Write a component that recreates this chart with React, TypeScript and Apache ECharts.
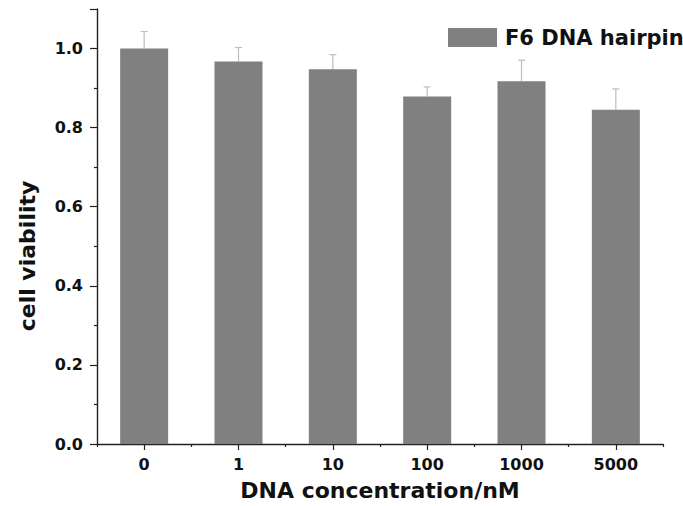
import React, { useEffect, useRef } from "react";
import * as echarts from "echarts";

const categories = ["0", "1", "10", "100", "1000", "5000"];
const viability = [1.0, 0.9675, 0.9475, 0.879, 0.9175, 0.845];
const errors = [0.043, 0.035, 0.037, 0.024, 0.053, 0.053];
const seriesName = "F6 DNA hairpin";
const xTitle = "DNA concentration/nM";
const yTitle = "cell viability";

const FONT = "DejaVu Sans";

export default function App() {
  const ref = useRef<HTMLDivElement>(null);
  useEffect(() => {
    if (!ref.current) return;
    const chart = echarts.init(ref.current, undefined, { renderer: "svg" });
    const errData = categories.map((c, i) => [i, viability[i], viability[i] + errors[i]]);
    chart.setOption({
      animation: false,
      backgroundColor: "#ffffff",
      grid: { left: 97, right: 20, top: 9, bottom: 57, containLabel: false },
      legend: {
        show: true,
        data: [seriesName],
        left: 443,
        top: 22,
        itemWidth: 49,
        itemHeight: 19,
        icon: "rect",
        textStyle: {
          fontFamily: FONT,
          fontWeight: "bold",
          fontSize: 21,
          color: "#111",
          padding: [0, 0, 0, 3],
        },
      },
      graphic: [
        {
          type: "text",
          x: 27,
          y: 256,
          rotation: Math.PI / 2,
          style: {
            text: yTitle,
            fontFamily: FONT,
            fontWeight: "bold",
            fontSize: 22,
            fill: "#111",
            align: "center",
            verticalAlign: "middle",
          },
        },
      ],
      xAxis: [
        {
          type: "category",
          data: categories,
          position: "bottom",
          boundaryGap: true,
          axisLine: { show: true, lineStyle: { color: "#222", width: 1.4 } },
          axisTick: { show: true, alignWithLabel: true, length: 6, lineStyle: { color: "#222", width: 1.2 } },
          axisLabel: {
            margin: 12,
            fontFamily: FONT,
            fontWeight: "bold",
            fontSize: 16,
            color: "#111",
          },
          splitLine: { show: false },
          name: xTitle,
          nameLocation: "middle",
          nameGap: 35,
          nameTextStyle: { fontFamily: FONT, fontWeight: "bold", fontSize: 22, color: "#111" },
        },
        {
          type: "category",
          data: categories,
          position: "bottom",
          boundaryGap: true,
          axisLine: { show: false },
          axisTick: { show: true, alignWithLabel: false, length: 3, lineStyle: { color: "#222", width: 1.2 } },
          axisLabel: { show: false },
          splitLine: { show: false },
        },
      ],
      yAxis: {
        type: "value",
        min: 0,
        max: 1.1,
        interval: 0.2,
        axisLine: { show: true, lineStyle: { color: "#222", width: 1.4 } },
        axisTick: { show: true, length: 7, lineStyle: { color: "#222", width: 1.2 } },
        minorTick: { show: true, splitNumber: 2, length: 3, lineStyle: { color: "#222", width: 1.2 } },
        splitLine: { show: false },
        axisLabel: {
          margin: 14,
          showMaxLabel: false,
          fontFamily: FONT,
          fontWeight: "bold",
          fontSize: 16,
          color: "#111",
          formatter: (v: number) => v.toFixed(1),
        },
      },
      series: [
        {
          name: seriesName,
          type: "bar",
          xAxisIndex: 0,
          data: viability,
          barWidth: 48,
          z: 3,
          itemStyle: { color: "#808080" },
        },
        {
          type: "custom",
          xAxisIndex: 0,
          data: errData,
          z: 1,
          renderItem: (params: any, api: any) => {
            const x = api.value(0);
            const base = api.coord([x, api.value(1)]);
            const top = api.coord([x, api.value(2)]);
            const half = 3.5;
            return {
              type: "group",
              children: [
                {
                  type: "line",
                  shape: { x1: base[0], y1: base[1], x2: top[0], y2: top[1] },
                  style: { stroke: "#bdbdbd", lineWidth: 1.2 },
                },
                {
                  type: "line",
                  shape: { x1: top[0] - half, y1: top[1], x2: top[0] + half, y2: top[1] },
                  style: { stroke: "#bdbdbd", lineWidth: 1.2 },
                },
              ],
            };
          },
        },
      ],
    });
    return () => chart.dispose();
  }, []);
  return (
    <div
      ref={ref}
      style={{ position: "fixed", left: 0, top: 0, width: 683, height: 506, background: "#fff" }}
    />
  );
}
